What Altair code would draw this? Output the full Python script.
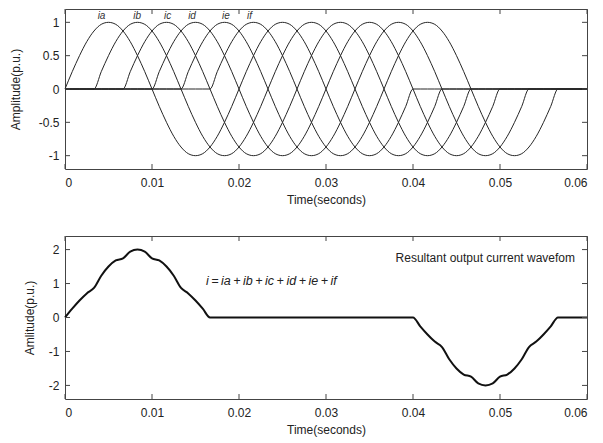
import altair as alt
import pandas as pd

# One cycle of a per-unit phase current, sampled every 15 electrical degrees (50 Hz)
cycle_pu = [0.0, 0.26, 0.5, 0.71, 0.87, 0.97, 1.0, 0.97, 0.87, 0.71, 0.5, 0.26,
            0.0, -0.26, -0.5, -0.71, -0.87, -0.97, -1.0, -0.97, -0.87, -0.71, -0.5, -0.26]
sample_step_s = 0.02 / len(cycle_pu)
n_samples = 73  # 0 .. 0.06 s

# Six phase currents, each switched on for two cycles, staggered by 60 degrees
phase_names = ["ia", "ib", "ic", "id", "ie", "if"]
phase_start_s = [0.0, 0.00333, 0.00667, 0.01, 0.01333, 0.01667]
cycles_on = 2
phase_label_s = [0.0042, 0.0083, 0.0118, 0.0146, 0.0185, 0.0212]

x_ticks = [0, 0.01, 0.02, 0.03, 0.04, 0.05, 0.06]
top_y_ticks = [-1, -0.5, 0, 0.5, 1]
bottom_y_ticks = [-2, -1, 0, 1, 2]

W, H_TOP, H_BOT = 522, 160, 163
FONT = "Liberation Sans"
INK = "#222222"
FRAME = "#444444"
THIN = "\u2009"

rows = []
for name, t0 in zip(phase_names, phase_start_s):
    s0 = round(t0 / sample_step_s)
    for n in range(n_samples):
        k = n - s0
        on = 0 <= k < cycles_on * len(cycle_pu)
        rows.append({"t": round(n * sample_step_s, 6), "phase": name,
                     "i": cycle_pu[k % len(cycle_pu)] if on else 0.0})
phases = pd.DataFrame(rows)
resultant = phases.groupby("t", as_index=False)["i"].sum()

x_scale = alt.Scale(domain=[0, 0.06], nice=False, zero=False)
top_scale = alt.Scale(domain=[-1.2, 1.2], nice=False)
bot_scale = alt.Scale(domain=[-2.4, 2.4], nice=False)

x_axis = alt.Axis(values=x_ticks, labelExpr="'' + datum.value", title="Time(seconds)",
                  ticks=False, domain=False, grid=False, labelPadding=8, titlePadding=6)


def y_axis(vals, title, title_pad):
    return alt.Axis(values=vals, labelExpr="'' + datum.value", title=title,
                    ticks=False, domain=False, grid=False, labelPadding=6, titlePadding=title_pad)


def enc_x(field="t"):
    return alt.X(f"{field}:Q", scale=x_scale, axis=x_axis)


def inward_ticks(y_vals, y_scale, y_ax, height, size=5):
    xdf = pd.DataFrame({"t": x_ticks})
    ydf = pd.DataFrame({"i": y_vals})
    ye = alt.Y("i:Q", scale=y_scale, axis=y_ax)
    base = dict(color=FRAME, strokeWidth=1)
    return [
        alt.Chart(xdf).mark_rule(**base).encode(x=enc_x(), y=alt.value(0), y2=alt.value(size)),
        alt.Chart(xdf).mark_rule(**base).encode(x=enc_x(), y=alt.value(height), y2=alt.value(height - size)),
        alt.Chart(ydf).mark_rule(**base).encode(y=ye, x=alt.value(0), x2=alt.value(size)),
        alt.Chart(ydf).mark_rule(**base).encode(y=ye, x=alt.value(W - size), x2=alt.value(W)),
    ]


top_y_axis = y_axis(top_y_ticks, "Amplitude(p.u.)", 16)
phase_lines = alt.Chart(phases).mark_line(color="#262626", strokeWidth=1, interpolate="monotone").encode(
    x=enc_x(),
    y=alt.Y("i:Q", scale=top_scale, axis=top_y_axis),
    detail="phase:N",
)

labels_df = pd.DataFrame({"t": phase_label_s, "i": [1.09] * 6, "name": phase_names})
phase_labels = alt.Chart(labels_df).mark_text(
    font=FONT, fontSize=10, fontStyle="italic", color="#333333", baseline="middle"
).encode(
    x=enc_x(),
    y=alt.Y("i:Q", scale=top_scale, axis=top_y_axis),
    text="name:N",
)

top = alt.layer(phase_lines, phase_labels,
                *inward_ticks(top_y_ticks, top_scale, top_y_axis, H_TOP)).properties(width=W, height=H_TOP)

bot_y_axis = y_axis(bottom_y_ticks, "Amlitude(p.u.)", 12)
sum_line = alt.Chart(resultant).mark_line(color="#111111", strokeWidth=2, interpolate="monotone").encode(
    x=enc_x(),
    y=alt.Y("i:Q", scale=bot_scale, axis=bot_y_axis),
)

formula = THIN.join(["i", "=", "ia", "+", "ib", "+", "ic", "+", "id", "+", "ie", "+", "if"])
notes_df = pd.DataFrame({
    "t": [0.038, 0.0162],
    "i": [1.74, 1.08],
    "text": ["Resultant output current wavefom", formula],
})
note_title = alt.Chart(notes_df.iloc[[0]]).mark_text(
    font=FONT, fontSize=12, color=INK, align="left", baseline="middle"
).encode(
    x=enc_x(),
    y=alt.Y("i:Q", scale=bot_scale, axis=bot_y_axis),
    text="text:N",
)
note_formula = alt.Chart(notes_df.iloc[[1]]).mark_text(
    font=FONT, fontSize=12.5, fontStyle="italic", color=INK, align="left", baseline="middle"
).encode(
    x=enc_x(),
    y=alt.Y("i:Q", scale=bot_scale, axis=bot_y_axis),
    text="text:N",
)

bottom = alt.layer(sum_line, note_title, note_formula,
                   *inward_ticks(bottom_y_ticks, bot_scale, bot_y_axis, H_BOT)).properties(width=W, height=H_BOT)

chart = alt.vconcat(top, bottom, spacing=67, bounds="flush").properties(
    padding={"left": 8, "top": 8, "right": 4, "bottom": 4},
    background="white",
).configure_view(
    stroke=FRAME, strokeWidth=1
).configure_axis(
    labelFont=FONT, labelFontSize=12, labelColor=INK,
    titleFont=FONT, titleFontSize=12, titleFontWeight="normal", titleColor=INK,
)

chart.save("out.html", embed_options={"renderer": "svg", "actions": False})
